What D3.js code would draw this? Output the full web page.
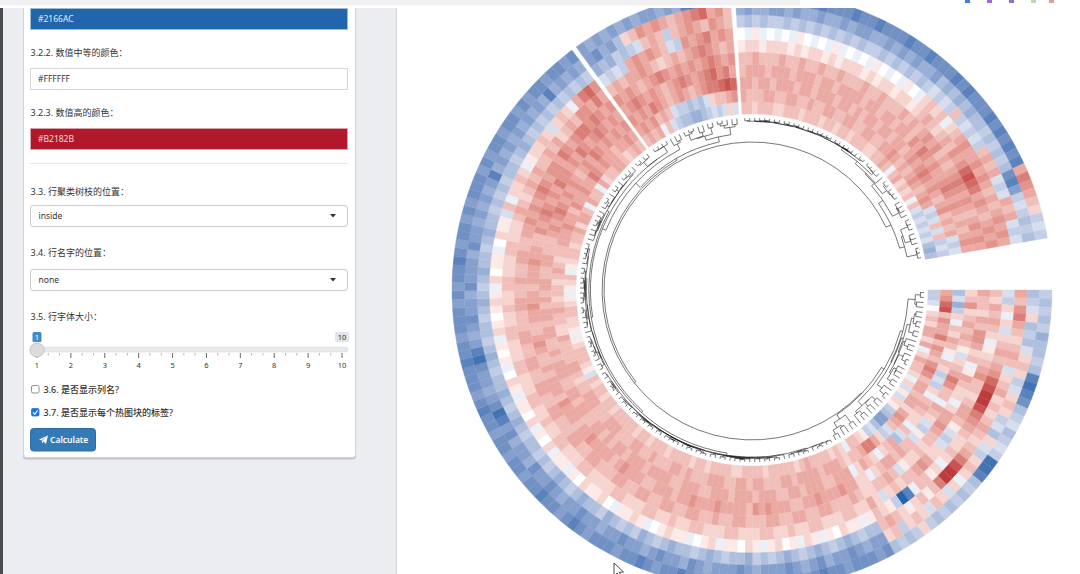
<!DOCTYPE html>
<html>
<head>
<meta charset="utf-8">
<title>circular heatmap</title>
<script src="https://cdn.jsdelivr.net/npm/d3@7"></script>
<style>
  body { margin: 0; background: #fff; overflow: hidden; }
  svg { display: block; }
  text { font-family: "Noto Sans", "Noto Sans CJK SC", sans-serif; }
</style>
</head>
<body>
<svg id="page" width="1080" height="574"></svg>
<script>
// colours chosen in the side panel
var lowColor = "#2166AC", midColor = "#FFFFFF", highColor = "#B2182B";

// heatmap columns, drawn as rings from the inside out
var colNames = ["V1", "V2", "V3", "V4", "V5", "V6", "V7", "V8", "V9", "V10"];

// gap (degrees) after each sector, clockwise from 3 o'clock
var gapAfter = [1, 1, 10];

// one string per column, rows run clockwise.
// digit n = +n/10, X = +1, letter a..j = -0.1..-1.0
var sector1 = [
	"ccb0232442 4a24332a2b 1b21cdffdb c1233a2 | 3233334323 3333233332 2333323323 3332333233 2333332332 3323b12333 21a1223321 a123a12332 | 3342443a43 3a42334432 343",
	"4578354463 5435653443 4424543bc2 4664332 | 3444344443 4433344344 3344433343 4433343344 3334443334 4433234433 3342233432 3323432334 | 4454435445 4465454434 454",
	"dbec2a3243 1a32cbc2a3 4322a3bd43 2a2342a | 4443344434 4334443444 3444334443 3444434443 4434344334 4344334443 4334434434 3443344333 | 4545654545 4345465454 545",
	"2352343431 b2346533a4 32bc1b3343 4432a22 | 4454445443 3444545344 4454445443 4443344454 3444454434 4453444343 3454334454 4344454433 | 5456545465 5454654565 454",
	"4332435542 3a14322a24 4543323221 b343322 | 3433344334 4334433344 3343344334 4334433443 3344334433 3443344334 4334433344 3343344334 | 4545456545 5465456656 545",
	"3243432a12 3453323443 1bcb224543 3232b24 | 2233222332 2322332223 3222332232 2332223322 2233222332 2322332223 3222332232 2332223322 | 2343234343 3434234355 464",
	"bc2a2b2343 4578998654 32232a2133 ahjc123 | 1a11201a12 a1021a1201 1a210a1121 0a1211a021 1201a11a20 1a2011a120 a101a21012 1a2011a021 | 1b3a2232a1 2232b232a4 675",
	"4356432343 b234232343 2346899631 3212343 | ddcdedcded cdedcdcedd cdedcddedc decdcdecdd edcdedcdcd dcdedcdedd cdedcddcde dcdeddcded | dcdcdcddcd edcdcdcdcd cdc",
	"dcb2dcdb23 2cb232cbd2 bc232a2b23 b232c32 | ffefgffegf efgfffefgf ffefgeffgf effgffeffg ffefgffgef fegfhigfef fgihfefgff egfffegffe | fefefhefef efefefehef efe",
	"cdcdceddcd hihgdcbdcb ciihdcdcdc dc2cdcd | gfgggfgghg fggfgghggf gggfghggfg hggfgggfgh gfgghggfgg fggfgghgfg gghggfgggf gfgghgfggf | gfgggfgfgg fggfgfggfg gfg"
];
var sector2 = [
	"3434a3bcdd eedcbcb2b",
	"4545343bcc dcdb23345",
	"5454654345 434566787",
	"4565454345 654567564",
	"5454345654 545456545",
	"3434454323 434565434",
	"bcbc454543 bc5456454",
	"edecdcb343 c34543543",
	"fgefd23545 434567453",
	"fefefefeff efehiihef"
];
var sector3 = [
	"3323332233 3233323323 3233322 | 3343a34232 3a3bcbcbcb ded",
	"4333443344 3343344334 4334433 | 4454343454 3454bcb3b3 cbc",
	"4434434443 4434443443 4344344 | 3443454565 4543453434 bcb",
	"3444344434 4434434444 3443443 | 4435465454 4565454343 454",
	"3343334334 3343343334 3343334 | 3434545343 4565454345 454",
	"1221222121 2212122212 1221221 | 2343234354 5787645434 545",
	"0a1a0a0a10 a0a1a0a0a1 0a0a10a | 2323a23454 4545434345 454",
	"cdcdccdcdc dcdcdcdccd cdcdcdc | bcbc3cbcbc 3434bcb434 bcb",
	"efeeffefee feefeffeef efefeef | dedededdcd cdcdghfcbc dcd",
	"ghggghghgg hggghgghgg ghgghgg | ghghggghgh ghgh465432 cbc"
];

var sliderTicks = [1, 2, 3, 4, 5, 6, 7, 8, 9, 10];

var svg = d3.select("#page");
var W = 1080, H = 574;

//circle geometry
var cx = 752, cy = 290;
var innerR = 176, ringW = 12.4;
var leafR = 172, rootR = 148;
var toRad = Math.PI / 180;

function decode(c) {
	if (c === "X") return 1;
	if (c >= "0" && c <= "9") return +c / 10;
	return -(c.charCodeAt(0) - 96) / 10;
}

function parseSector(rings) {
	var cols = rings.map(function(s) {
		return s.replace(/[^0-9a-jX]/g, "").split("").map(decode);
	});
	var n = d3.min(cols, function(c) { return c.length; });
	return d3.range(n).map(function(i) {
		return cols.map(function(c) { return c[i]; });
	});
}

var sectors = [sector1, sector2, sector3].map(parseSector);
var totalRows = d3.sum(sectors, function(s) { return s.length; });
var degPerRow = (360 - d3.sum(gapAfter)) / totalRows;

var rows = [];
var start = 0;
sectors.forEach(function(sec, si) {
	var angle = d3.scaleLinear()
		.domain([0, sec.length])
		.range([start * toRad, (start + sec.length * degPerRow) * toRad]);
	sec.forEach(function(vals, i) {
		rows.push({values: vals, a0: angle(i), a1: angle(i + 1), mid: angle(i + 0.5)});
	});
	start += sec.length * degPerRow + gapAfter[si];
});

var color = d3.scaleLinear()
	.domain([-1, 0, 1])
	.range([lowColor, midColor, highColor])
	.interpolate(d3.interpolateLab);

var ring = d3.scaleLinear()
	.domain([0, colNames.length])
	.range([innerR, innerR + colNames.length * ringW]);

var arc = d3.arc();

var heat = svg.append("g").attr("transform", "translate(" + cx + "," + cy + ")");
heat.selectAll("g.row")
	.data(rows)
	.join("g")
	.attr("class", "row")
	.each(function(row) {
		d3.select(this).selectAll("path")
			.data(row.values)
			.join("path")
			.attr("d", function(v, j) {
				return arc({
					innerRadius: ring(j),
					outerRadius: ring(j + 1),
					startAngle: row.a0 + Math.PI / 2,
					endAngle: row.a1 + Math.PI / 2
				});
			})
			.attr("fill", function(v) { return color(v); })
			.attr("stroke", function(v) { return color(v); })
			.attr("stroke-width", 0.35);
	});

//row dendrogram: complete linkage, merging only neighbouring clusters so the order is kept
function dist(a, b) {
	var s = 0;
	for (var k = 0; k < a.length; k++) { var d = a[k] - b[k]; s += d * d; }
	return Math.sqrt(s);
}
var D = rows.map(function(a) { return rows.map(function(b) { return dist(a.values, b.values); }); });

function linkage(a, b) {
	var m = 0;
	for (var i = a.lo; i <= a.hi; i++)
		for (var j = b.lo; j <= b.hi; j++)
			if (D[i][j] > m) m = D[i][j];
	return m;
}

var clusters = rows.map(function(r, i) { return {lo: i, hi: i, node: {angle: r.mid, height: 0}}; });
while (clusters.length > 1) {
	var best = 0, bestD = Infinity;
	for (var i = 0; i < clusters.length - 1; i++) {
		var d = linkage(clusters[i], clusters[i + 1]);
		if (d < bestD) { bestD = d; best = i; }
	}
	var a = clusters[best], b = clusters[best + 1];
	var node = {
		children: [a.node, b.node],
		height: Math.max(bestD, a.node.height, b.node.height),
		angle: (a.node.angle + b.node.angle) / 2
	};
	clusters.splice(best, 2, {lo: a.lo, hi: b.hi, node: node});
}
var root = d3.hierarchy(clusters[0].node);

var hScale = d3.scaleLinear().domain([0, root.data.height]).range([leafR, rootR]);

function polar(angle, r) { return [cx + r * Math.cos(angle), cy + r * Math.sin(angle)]; }

svg.append("g")
	.selectAll("path")
	.data(root.descendants().filter(function(n) { return n.children; }))
	.join("path")
	.attr("fill", "none")
	.attr("stroke", "#1b1b1b")
	.attr("stroke-width", 0.6)
	.attr("d", function(n) {
		var c1 = n.data.children[0], c2 = n.data.children[1];
		var r = hScale(n.data.height);
		var p = d3.path();
		var s1 = polar(c1.angle, hScale(c1.height)), e2 = polar(c2.angle, hScale(c2.height));
		p.moveTo(s1[0], s1[1]);
		var t1 = polar(c1.angle, r);
		p.lineTo(t1[0], t1[1]);
		p.arc(cx, cy, r, c1.angle, c2.angle);
		p.lineTo(e2[0], e2[1]);
		return p.toString();
	});

//mouse pointer left on the screenshot
svg.append("path")
	.attr("d", "M614,563 L614,576 L617.2,573 L619.4,578 L621.4,577 L619.3,572.2 L623.5,572 Z")
	.attr("fill", "#fff")
	.attr("stroke", "#222")
	.attr("stroke-width", 0.8);

//side panel
var panel = svg.append("g");
panel.append("rect").attr("width", 397).attr("height", H).attr("fill", "#ecedf1");
panel.append("line")
	.attr("x1", 396.5).attr("x2", 396.5).attr("y1", 0).attr("y2", H)
	.attr("stroke", "#d3d4d8");
panel.append("rect").attr("width", 3).attr("height", H).attr("fill", "#4b4b4d");

panel.append("rect")
	.attr("x", 23).attr("y", -10).attr("width", 333).attr("height", 469.5)
	.attr("rx", 3).attr("fill", "#c4c6cb");
panel.append("rect")
	.attr("x", 23.5).attr("y", -10).attr("width", 332).attr("height", 467.5)
	.attr("rx", 3).attr("fill", "#fff").attr("stroke", "#cfd2d7");

var colorInputs = [
	{y: 8, fill: lowColor, stroke: "#9fb8d8", text: "#2166AC", ink: "#e3ebf5"},
	{y: 68, fill: midColor, stroke: "#d6d6d6", text: "#FFFFFF", ink: "#333"},
	{y: 128, fill: highColor, stroke: "#d9a0a5", text: "#B2182B", ink: "#f5dcdc"}
];
var inputs = panel.selectAll("g.input").data(colorInputs).join("g").attr("class", "input");
inputs.append("rect")
	.attr("x", 30.5).attr("y", function(d) { return d.y + 0.5; })
	.attr("width", 317).attr("height", 21)
	.attr("fill", function(d) { return d.fill; })
	.attr("stroke", function(d) { return d.stroke; });
inputs.append("text")
	.attr("x", 38).attr("y", function(d) { return d.y + 14; })
	.attr("font-size", 8.5)
	.attr("fill", function(d) { return d.ink; })
	.text(function(d) { return d.text; });

var labels = [
	{y: 56, text: "3.2.2. 数值中等的颜色："},
	{y: 116, text: "3.2.3. 数值高的颜色："},
	{y: 195, text: "3.3. 行聚类树枝的位置："},
	{y: 256, text: "3.4. 行名字的位置："},
	{y: 320, text: "3.5. 行字体大小："}
];
panel.selectAll("text.lab").data(labels).join("text")
	.attr("class", "lab")
	.attr("x", 30.5).attr("y", function(d) { return d.y; })
	.attr("font-size", 9).attr("fill", "#333")
	.text(function(d) { return d.text; });

panel.append("line")
	.attr("x1", 30).attr("x2", 348).attr("y1", 163.5).attr("y2", 163.5)
	.attr("stroke", "#e6e6e6");

var selects = [{y: 205, text: "inside"}, {y: 269, text: "none"}];
var sel = panel.selectAll("g.select").data(selects).join("g").attr("class", "select");
sel.append("rect")
	.attr("x", 30.5).attr("y", function(d) { return d.y + 0.5; })
	.attr("width", 317).attr("height", 21).attr("rx", 2.5)
	.attr("fill", "#fff").attr("stroke", "#cccccc");
sel.append("text")
	.attr("x", 38.5).attr("y", function(d) { return d.y + 14; })
	.attr("font-size", 8.5).attr("fill", "#333")
	.text(function(d) { return d.text; });
sel.append("path")
	.attr("d", function(d) { var y = d.y + 9; return "M330," + y + " L336," + y + " L333," + (y + 3.5) + " Z"; })
	.attr("fill", "#333");

//slider
var sx = d3.scaleLinear().domain([1, 10]).range([37, 342]);
panel.append("rect")
	.attr("x", 37).attr("y", 347).attr("width", 311).attr("height", 5).attr("rx", 2.5)
	.attr("fill", "#e7e8ea").attr("stroke", "#dcdde0").attr("stroke-width", 0.6);
var minor = [];
sliderTicks.slice(0, -1).forEach(function(t) { minor.push(t + 1 / 3, t + 2 / 3); });
panel.selectAll("line.minor").data(minor).join("line")
	.attr("class", "minor")
	.attr("x1", sx).attr("x2", sx).attr("y1", 353).attr("y2", 355.5)
	.attr("stroke", "#9a9a9a").attr("stroke-width", 0.7);
panel.selectAll("line.major").data(sliderTicks).join("line")
	.attr("class", "major")
	.attr("x1", sx).attr("x2", sx).attr("y1", 353).attr("y2", 358)
	.attr("stroke", "#444").attr("stroke-width", 0.8);
panel.selectAll("text.tick").data(sliderTicks).join("text")
	.attr("class", "tick")
	.attr("x", sx).attr("y", 367.5)
	.attr("text-anchor", "middle").attr("font-size", 7.5).attr("fill", "#333")
	.text(function(d) { return d; });
panel.append("rect")
	.attr("x", sx(1) - 4.5).attr("y", 332).attr("width", 9).attr("height", 10).attr("rx", 1.5)
	.attr("fill", "#428bca");
panel.append("text")
	.attr("x", sx(1)).attr("y", 340).attr("text-anchor", "middle")
	.attr("font-size", 7.5).attr("fill", "#fff").text(sliderTicks[0]);
panel.append("rect")
	.attr("x", 335).attr("y", 332).attr("width", 14).attr("height", 10).attr("rx", 1.5)
	.attr("fill", "#e1e4e9");
panel.append("text")
	.attr("x", 342).attr("y", 340).attr("text-anchor", "middle")
	.attr("font-size", 7.5).attr("fill", "#333").text(sliderTicks[sliderTicks.length - 1]);
panel.append("circle")
	.attr("cx", sx(1)).attr("cy", 350).attr("r", 7)
	.attr("fill", "#dcdcdc").attr("stroke", "#c3c3c3");

//checkboxes
var checks = [
	{y: 385, on: false, text: "3.6. 是否显示列名?"},
	{y: 408, on: true, text: "3.7. 是否显示每个热图块的标签?"}
];
var cb = panel.selectAll("g.check").data(checks).join("g").attr("class", "check");
cb.append("rect")
	.attr("x", 31.5).attr("y", function(d) { return d.y + 0.5; })
	.attr("width", 7.5).attr("height", 7.5).attr("rx", 1.5)
	.attr("fill", function(d) { return d.on ? "#1a73e8" : "#fff"; })
	.attr("stroke", function(d) { return d.on ? "#1a73e8" : "#767676"; })
	.attr("stroke-width", 0.8);
cb.filter(function(d) { return d.on; }).append("path")
	.attr("d", function(d) { var y = d.y; return "M33," + (y + 4.4) + " L34.8," + (y + 6.3) + " L37.6," + (y + 2.3); })
	.attr("fill", "none").attr("stroke", "#fff").attr("stroke-width", 1.2);
cb.append("text")
	.attr("x", 43.5).attr("y", function(d) { return d.y + 7.5; })
	.attr("font-size", 9).attr("font-weight", 500).attr("fill", "#333")
	.text(function(d) { return d.text; });

//button
panel.append("rect")
	.attr("x", 30.5).attr("y", 428.5).attr("width", 65).attr("height", 22.5).attr("rx", 3)
	.attr("fill", "#337ab7").attr("stroke", "#2e6da4");
panel.append("path")
	.attr("d", "M39,439.5 L48,435.5 L46,444 L43.6,441.6 L42,443.6 L42,440.8 L47,436.6 L41.2,440.4 Z")
	.attr("fill", "#fff");
panel.append("text")
	.attr("x", 50).attr("y", 443).attr("font-size", 8.5).attr("font-weight", 600)
	.attr("fill", "#fff").text("Calculate");

//strip of the browser window along the top
svg.append("rect").attr("width", W).attr("height", 8).attr("fill", "#fff");
svg.append("rect").attr("width", 800).attr("height", 5.5).attr("fill", "#f1f1f4");
var icons = [{x: 965, c: "#4a7bd8"}, {x: 987, c: "#9a6ad8"}, {x: 1009, c: "#8d6fd1"}, {x: 1031, c: "#b8d8b0"}, {x: 1049, c: "#e0a0a0"}];
svg.selectAll("rect.icon").data(icons).join("rect")
	.attr("class", "icon")
	.attr("x", function(d) { return d.x; }).attr("y", 0)
	.attr("width", 5).attr("height", 3)
	.attr("fill", function(d) { return d.c; });
</script>
</body>
</html>
